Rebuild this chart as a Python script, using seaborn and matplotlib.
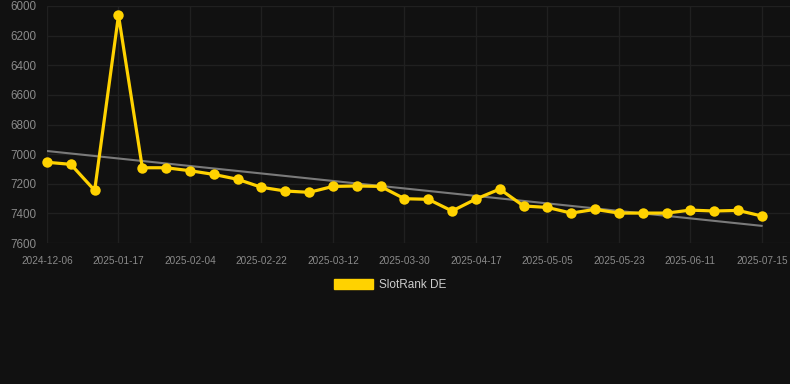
import matplotlib
matplotlib.use("Agg")
import matplotlib.pyplot as plt
import matplotlib.patches as mpatches
import seaborn as sns
import numpy as np
import pandas as pd

dates = ["2024-12-06", "2024-12-20", "2025-01-03", "2025-01-17", "2025-01-23", "2025-01-29",
         "2025-02-04", "2025-02-10", "2025-02-16", "2025-02-22", "2025-02-28", "2025-03-06",
         "2025-03-12", "2025-03-18", "2025-03-24", "2025-03-30", "2025-04-05", "2025-04-11",
         "2025-04-17", "2025-04-23", "2025-04-29", "2025-05-05", "2025-05-11", "2025-05-17",
         "2025-05-23", "2025-05-29", "2025-06-05", "2025-06-11", "2025-06-22", "2025-07-03",
         "2025-07-15"]
ranks = [7055, 7069, 7245, 6063, 7092, 7092, 7112, 7137, 7170, 7224, 7249, 7258,
         7218, 7215, 7218, 7301, 7305, 7384, 7303, 7236, 7350, 7360, 7398, 7373,
         7398, 7398, 7398, 7378, 7384, 7380, 7418]
series_name = "SlotRank DE"
yticks = [6000, 6200, 6400, 6600, 6800, 7000, 7200, 7400, 7600]

df = pd.DataFrame({"idx": np.arange(len(dates)), "date": dates, "rank": ranks})

BG = "#111111"
YELLOW = "#FFD200"
sns.set_theme(style="dark")
plt.rcParams["font.family"] = ["Liberation Sans", "DejaVu Sans"]

fig = plt.figure(figsize=(7.9, 3.84), dpi=100, facecolor=BG)
ax = fig.add_axes([47/790, 1-243/384, 743/790, 237/384])
ax.set_facecolor(BG)

sns.regplot(data=df, x="idx", y="rank", ax=ax, scatter=False, ci=None, truncate=True,
            line_kws={"color": "#7a7a7a", "lw": 1.5, "zorder": 2})
sns.lineplot(data=df, x="idx", y="rank", ax=ax, color=YELLOW, lw=2.3, marker="o",
             markersize=7.5, markeredgewidth=0, zorder=3, clip_on=False)

ax.set_ylim(7600, 6000)
ax.set_xlim(0, 31.18)
ax.set_yticks(yticks)
ax.set_yticklabels([str(v) for v in yticks])
tick_idx = list(range(0, len(dates), 3))
ax.set_xticks(tick_idx)
ax.set_xticklabels([dates[i] for i in tick_idx])
ax.tick_params(axis="y", colors="#8a8a8a", labelsize=8.4, length=0, pad=8)
ax.tick_params(axis="x", colors="#8a8a8a", labelsize=7.2, length=0, pad=9)
ax.grid(True, color="#202020", lw=1.0)
ax.set_axisbelow(True)
for s in ax.spines.values():
    s.set_visible(False)
ax.set_xlabel("")
ax.set_ylabel("")

handle = mpatches.Patch(facecolor=YELLOW, edgecolor=YELLOW, label=series_name)
fig.legend(handles=[handle], loc="center", bbox_to_anchor=(390/790, 1-285/384),
           frameon=False, fontsize=8.5, labelcolor="#cccccc", handlelength=3.3,
           handleheight=1.0, handletextpad=0.5)

fig.savefig("out.png", dpi=100, facecolor=BG)
